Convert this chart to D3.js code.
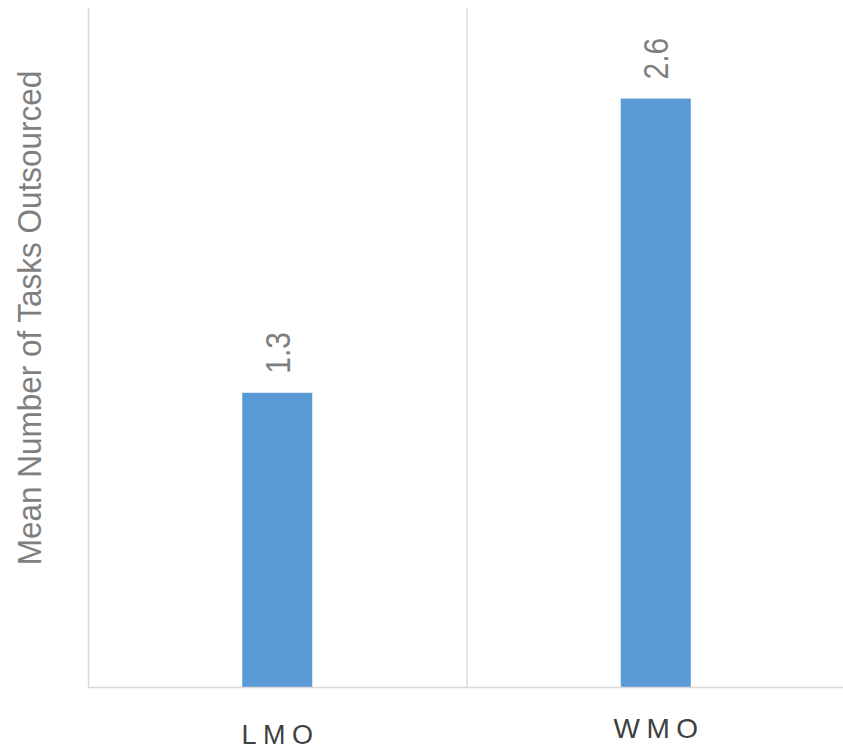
<!DOCTYPE html>
<html>
<head>
<meta charset="utf-8">
<script src="https://cdn.jsdelivr.net/npm/d3@7"></script>
<style>
  html, body { margin: 0; padding: 0; background: #fff; }
  svg { display: block; }
</style>
</head>
<body>
<div id="chart"></div>
<script>
// Mean number of tasks outsourced, by group
const categories = ["LMO", "WMO"];
const values = [1.3, 2.6];
const valueLabels = ["1.3", "2.6"];
const yTitle = "Mean Number of Tasks Outsourced";

const W = 843, H = 751;
const plot = { left: 88, right: 845, top: 8, bottom: 687 };
const FONT = "'Liberation Sans', Arial, Helvetica, sans-serif";

const svg = d3.select("#chart").append("svg")
  .attr("width", W).attr("height", H);

const x = d3.scaleBand()
  .domain(categories)
  .range([plot.left, plot.right])
  .paddingInner(0).paddingOuter(0);

const y = d3.scaleLinear()
  .domain([0, 3])
  .range([plot.bottom, plot.top]);

const barW = x.bandwidth() * 0.185;
const cx = d => x(d) + x.bandwidth() / 2;

// vertical category dividers
const edges = categories.map(c => x(c));
svg.append("g").selectAll("line")
  .data(edges)
  .join("line")
  .attr("x1", d => d + 0.5).attr("x2", d => d + 0.5)
  .attr("y1", plot.top).attr("y2", plot.bottom)
  .attr("stroke", "#d9d9d9").attr("stroke-width", 1.5);

// bars
svg.append("g").selectAll("rect")
  .data(categories)
  .join("rect")
  .attr("x", d => cx(d) - barW / 2)
  .attr("width", barW)
  .attr("y", (d, i) => y(values[i]))
  .attr("height", (d, i) => y(0) - y(values[i]))
  .attr("fill", "#5b9bd5");

// baseline
svg.append("line")
  .attr("x1", plot.left).attr("x2", W)
  .attr("y1", plot.bottom + 0.5).attr("y2", plot.bottom + 0.5)
  .attr("stroke", "#d9d9d9").attr("stroke-width", 1.5);

// value labels, rotated above each bar
const vSize = 30, vStretch = 1.17;
svg.append("g").selectAll("text")
  .data(categories)
  .join("text")
  .attr("transform", (d, i) =>
    `translate(${cx(d) + vSize * 0.716 * vStretch / 2},${y(values[i]) - 19}) scale(${vStretch},1) rotate(-90)`)
  .attr("font-family", FONT)
  .attr("font-size", vSize)
  .attr("fill", "#7f7f7f")
  .text((d, i) => valueLabels[i]);

// category labels
const catDy = [57, 51];
const catSpacing = 6.5;
svg.append("g").selectAll("text")
  .data(categories)
  .join("text")
  .attr("x", d => cx(d) + catSpacing / 2)
  .attr("y", (d, i) => plot.bottom + catDy[i])
  .attr("text-anchor", "middle")
  .attr("font-family", FONT)
  .attr("font-size", (d, i) => i === 0 ? 27 : 28)
  .attr("letter-spacing", catSpacing + "px")
  .attr("fill", "#404040")
  .text(d => d);

// y-axis title
svg.append("text")
  .attr("transform", `translate(41,318) scale(1.06,1) rotate(-90)`)
  .attr("text-anchor", "middle")
  .attr("font-family", FONT)
  .attr("font-size", 31.5)
  .attr("fill", "#7f7f7f")
  .text(yTitle);
</script>
</body>
</html>
